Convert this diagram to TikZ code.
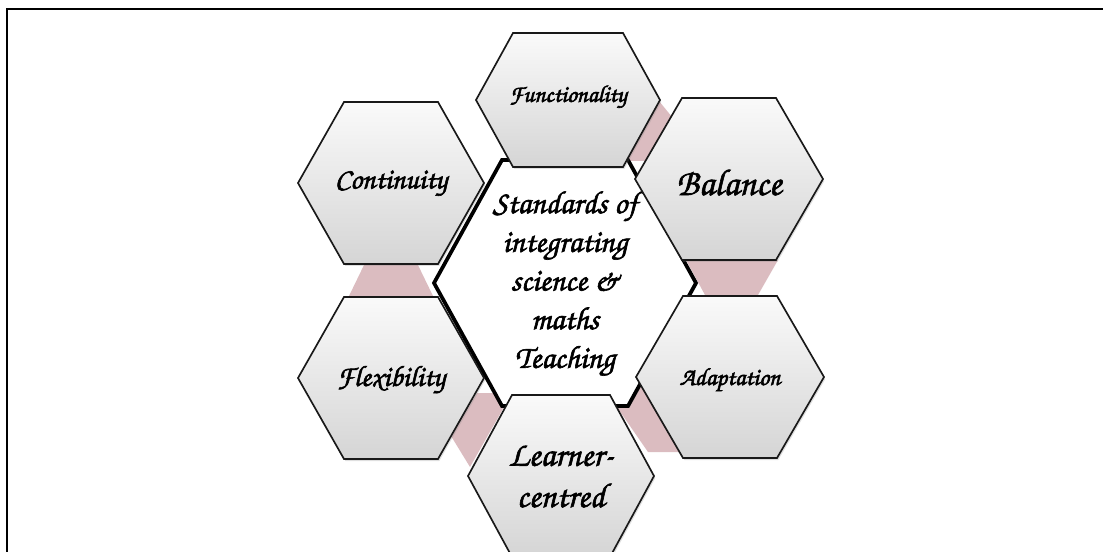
\documentclass[tikz,border=0pt]{standalone}
\usetikzlibrary{shadows}
\definecolor{pinkband}{RGB}{219,188,192}
\newcommand{\hexfont}{\fontencoding{T1}\fontfamily{pzc}\fontseries{mb}\fontshape{it}\selectfont}
\newcommand{\heavy}{\special{pdf:literal direct 2 Tr 0.45 w}}
% hexagon: style, centre x, centre y, half width, half height, half top edge
\newcommand{\hexcell}[6]{\path[#1] (#2-#4,#3) -- (#2-#6,#3-#5) -- (#2+#6,#3-#5)
  -- (#2+#4,#3) -- (#2+#6,#3+#5) -- (#2-#6,#3+#5) -- cycle;}
\tikzset{
  cell/.style={draw=black!90, line width=1.25pt, top color=gray!4, bottom color=gray!33,
    drop shadow={opacity=0.25, shadow xshift=1pt, shadow yshift=-1.5pt}},
  hub/.style={draw=black, line width=2.8pt, fill=white,
    drop shadow={opacity=0.35, shadow xshift=1.2pt, shadow yshift=-1.2pt}},
  link/.style={fill=pinkband},
  celltext/.style={align=center, text=black, inner sep=0pt},
}
\begin{document}
\begin{tikzpicture}[x=0.75pt, y=-0.75pt]
    \useasboundingbox (0,0) rectangle (1103,552);
    \draw[line width=1.5pt] (1103,9) -- (7,9) -- (7,552);

    % pink bands behind the ring
    \fill[link] (659,101) -- (672,117) -- (654,161) -- (627,161) -- cycle;
    \fill[link] (686,260) -- (778,260) -- (758,295) -- (705,295) -- cycle;
    \fill[link] (365,263) -- (417,263) -- (433,296) -- (349,296) -- cycle;
    \fill[link] (477,393) -- (512,393) -- (470,467) -- (451,436) -- cycle;
    \fill[link] (612,400) -- (638,377) -- (683,452) -- (648,452) -- cycle;

    % centre
    \hexcell{hub}{565}{283}{131}{123}{63}
    \node[celltext, font=\hexfont\fontsize{24}{29}\selectfont] (hub) at (565,284)
        {\heavy Standards of\\\heavy integrating\\\heavy science \&\\\heavy maths\\\heavy Teaching};

    % ring
    \hexcell{cell}{568}{100}{92}{67}{55}
    \hexcell{cell}{729}{179}{94}{81}{47}
    \hexcell{cell}{730}{377}{94}{81}{47}
    \hexcell{cell}{561}{476}{93}{81}{49}
    \hexcell{cell}{391}{378}{93}{81}{47}
    \hexcell{cell}{391}{183}{93}{81}{47}
    \node[celltext, font=\hexfont\fontsize{18}{20}\selectfont] (func) at (568,97) {\heavy Functionality};
    \node[celltext, font=\hexfont\fontsize{28}{30}\selectfont] (bal) at (729,182) {\heavy Balance};
    \node[celltext, font=\hexfont\fontsize{18.5}{20}\selectfont] (adapt) at (730,380) {\heavy Adaptation};
    \node[celltext, font=\hexfont\fontsize{26}{31}\selectfont] (learn) at (561,476) {\heavy Learner-\\\heavy centred};
    \node[celltext, font=\hexfont\fontsize{22}{24}\selectfont] (flex) at (391,380) {\heavy Flexibility};
    \node[celltext, font=\hexfont\fontsize{22}{24}\selectfont] (cont) at (391,184) {\heavy Continuity};
\end{tikzpicture}
\end{document}
